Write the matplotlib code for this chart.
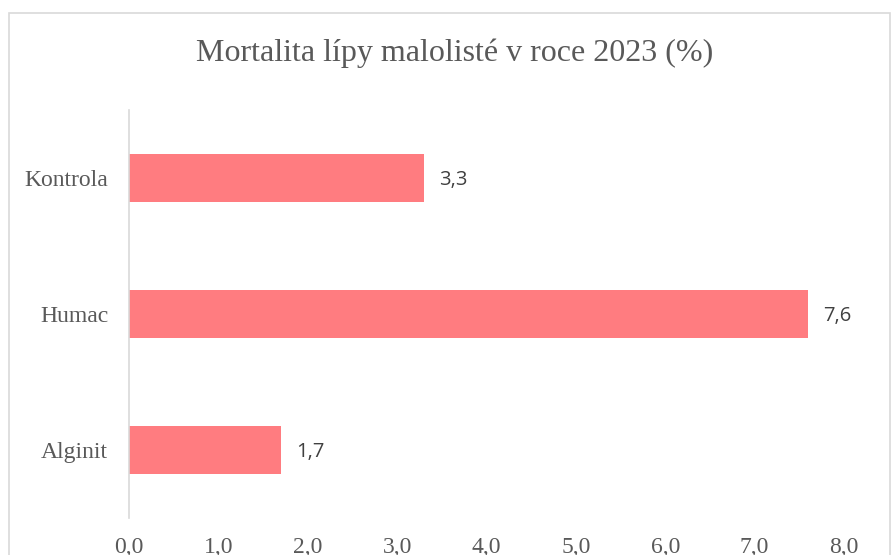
import matplotlib.pyplot as plt
from matplotlib.patches import Rectangle

categories = ["Alginit", "Humac", "Kontrola"]
mortality = [1.7, 7.6, 3.3]
x_ticks = [0, 1, 2, 3, 4, 5, 6, 7, 8]
title = "Mortalita lípy malolisté v roce 2023 (%)"

BAR = "#FF7C80"
TEXT = "#595959"
GRID = "#D9D9D9"

fig = plt.figure(figsize=(8.91, 5.55), dpi=100)
ax = fig.add_axes([129 / 891, 1 - 518 / 555, 715 / 891, 408 / 555])

pos = list(range(len(categories)))
ax.barh(pos, mortality, height=0.353, color=BAR)

for y, v in zip(pos, mortality):
    ax.annotate(f"{v:.1f}".replace(".", ","), (v, y), xytext=(11, -1.5),
                textcoords="offset points", va="center", ha="left",
                fontsize=14.5, color="#404040", family="Open Sans")

ax.set_xlim(0, 8)
ax.set_ylim(-0.5, len(categories) - 0.5)
ax.set_xticks(x_ticks)
ax.set_xticklabels([f"{t:.1f}".replace(".", ",") for t in x_ticks],
                   family="Liberation Serif", fontsize=17, color=TEXT)
ax.set_yticks(pos)
ax.set_yticklabels(categories, family="Liberation Serif", fontsize=17, color=TEXT)
ax.tick_params(axis="x", length=0, pad=14)
ax.tick_params(axis="y", length=0, pad=15)

for side in ["top", "right", "bottom"]:
    ax.spines[side].set_visible(False)
ax.spines["left"].set_color(GRID)
ax.spines["left"].set_linewidth(1.2)

fig.text(455 / 891, 1 - 53 / 555, title, ha="center", va="center",
         family="Liberation Serif", fontsize=23, color=TEXT)

fig.patches.append(Rectangle((9 / 891, -0.1), 881 / 891, 1.1 - 13 / 555,
                             transform=fig.transFigure, fill=False,
                             edgecolor=GRID, linewidth=1.2))

fig.savefig("out.png", dpi=100)
